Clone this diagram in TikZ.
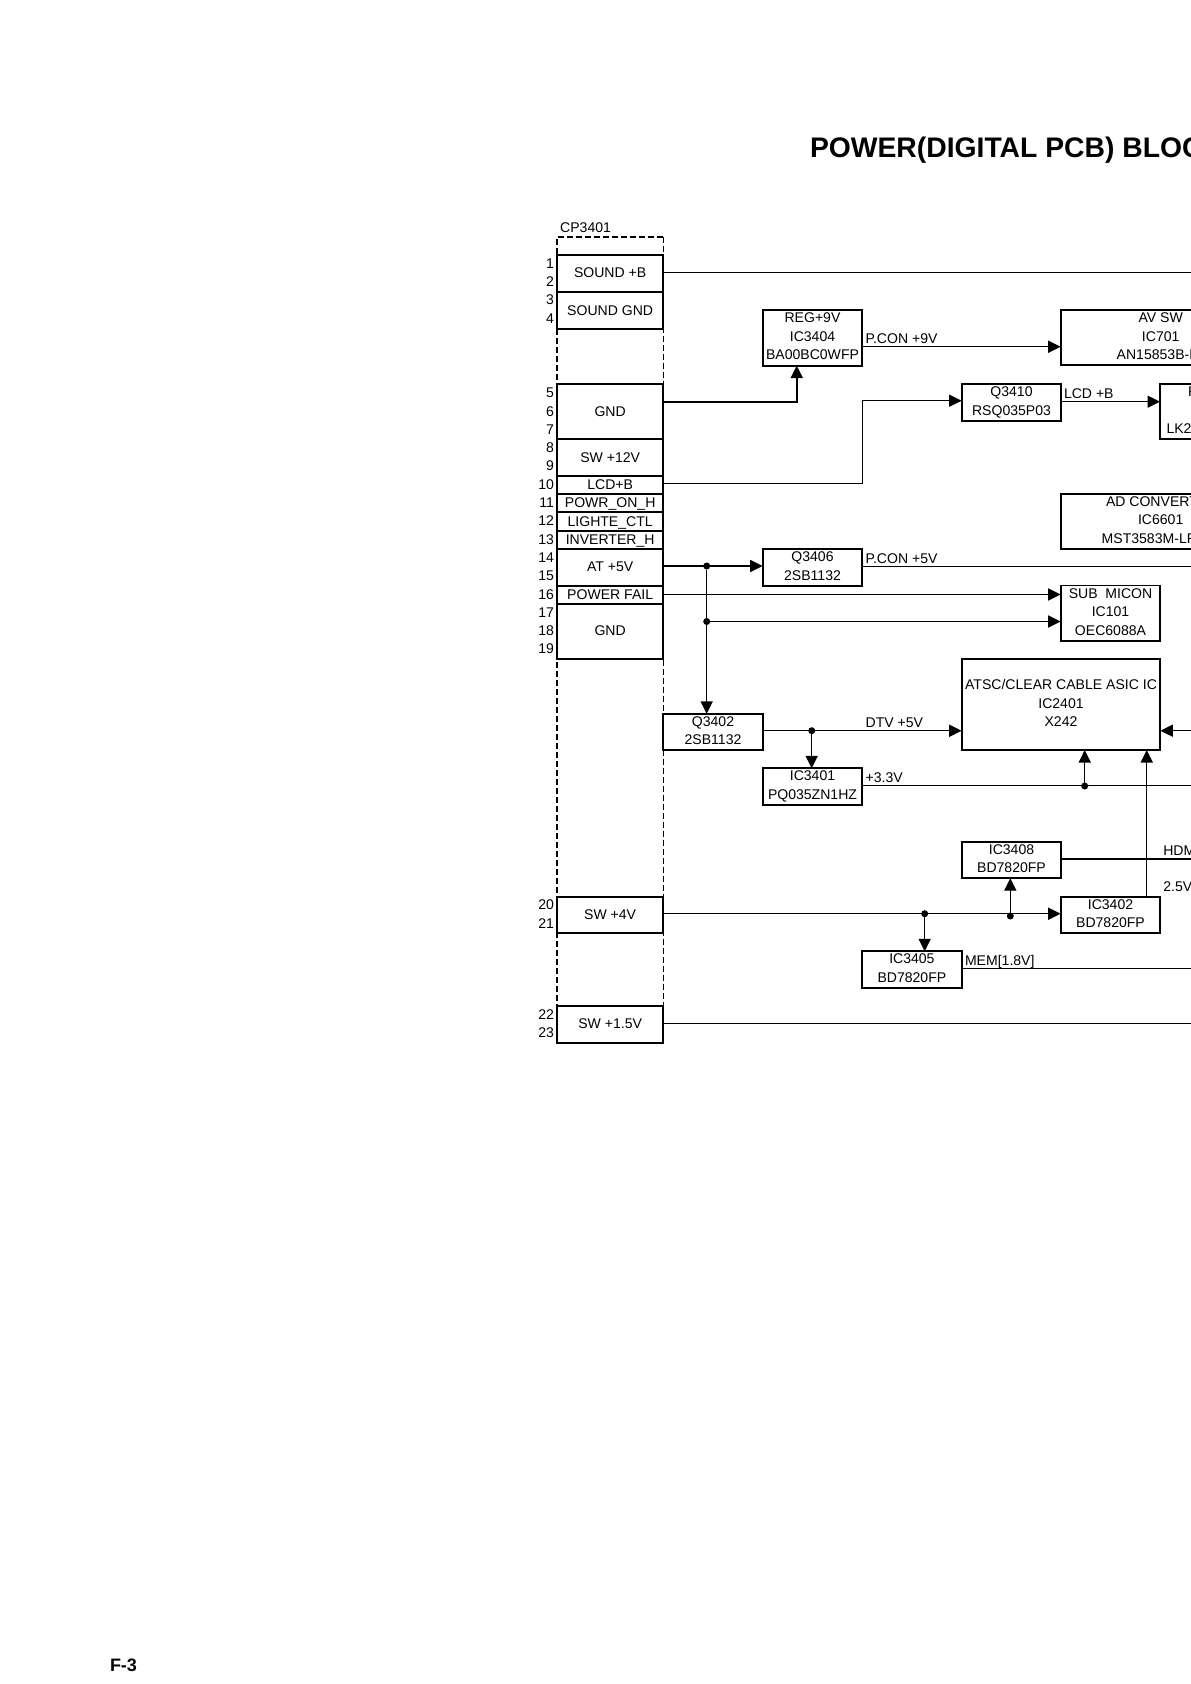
\documentclass[tikz,border=0pt]{standalone}
\usepackage{fontspec}
\usepackage{tikz}
\usetikzlibrary{arrows.meta, positioning, calc}
\setmainfont{Liberation Sans}

\newcommand{\cutline}[2]{\makebox[#1][l]{#2}}

\begin{document}
\begin{tikzpicture}[
  x=1pt, y=-1pt,
  >={Triangle[length=12.5pt, width=12pt]},
  every node/.style={font=\fontsize{14.05}{18.7}\selectfont, inner sep=0pt, outer sep=0pt},
  celltext/.style={
    align=center,
    execute at begin node={\rule{0pt}{12pt}},
    execute at end node={\rule[-3pt]{0pt}{3pt}}
  },
  cell/.style={draw, line width=1.8pt, fill=white, minimum width=106.3pt, celltext},
  blocktwo/.style={draw, line width=1.8pt, fill=white, minimum width=99.6pt, minimum height=36.4pt, celltext},
  blockthree/.style={draw, line width=1.8pt, fill=white, minimum width=99.6pt, minimum height=55.6pt, celltext},
  blockopen/.style={draw, line width=1.8pt, fill=white, minimum width=200pt, minimum height=55pt, celltext},
  pin/.style={anchor=east, yshift=0.5pt},
  lbl/.style={anchor=base west},
  wire/.style={line width=1.2pt},
  feed/.style={->, line width=1.4pt},
  heavy/.style={line width=1.8pt},
  dot/.style={circle, fill=black, minimum size=7pt},
]
\clip (0,0) rectangle (1191,1684);

%% ── Title ─────────────────────────────────────────────────────────────────
\node[anchor=base west, font=\fontsize{28.3}{30}\selectfont\bfseries] (title) at (810,157.7)
  {POWER(DIGITAL PCB) BLOC};
\node[anchor=base west, font=\fontsize{18}{20}\selectfont\bfseries] (page) at (110,1671.5) {F-3};

%% ── Connector outline ─────────────────────────────────────────────────────
\node[anchor=base west] (cpname) at (560.2,232.3) {CP3401};
\coordinate (cptl) at (557,236.7);
\coordinate (cptr) at (663.3,236.7);
\coordinate (cpbl) at (557,1010);
\coordinate (cpbr) at (663.3,1010);
\draw[line width=1.8pt, dash pattern=on 6.5pt off 2.5pt] (cpbl) -- (cptl) -- (cptr);
\draw[line width=1.1pt, dash pattern=on 6.5pt off 2.5pt] (cptr) -- (cpbr);

%% ── Connector cells ───────────────────────────────────────────────────────
\node[cell, minimum height=36.7pt] (soundb)   at (610.15,273.35) {SOUND +B};
\node[cell, minimum height=37.6pt] (soundgnd) at (610.15,310.5)  {SOUND GND};
\node[cell, minimum height=55pt]   (gnda)     at (610.15,411.5)  {GND};
\node[cell, minimum height=37pt]   (sw12)     at (610.15,457.5)  {SW +12V};
\node[cell, minimum height=18pt]   (lcdb)     at (610.15,485)    {LCD+B};
\node[cell, minimum height=18pt]   (powron)   at (610.15,503)    {POWR\_ON\_H};
\node[cell, minimum height=19pt]   (lighte)   at (610.15,521.5)  {LIGHTE\_CTL};
\node[cell, minimum height=18pt]   (inverter) at (610.15,540)    {INVERTER\_H};
\node[cell, minimum height=36.7pt] (at5v)     at (610.15,567.35) {AT +5V};
\node[cell, minimum height=18pt]   (powfail)  at (610.15,594.7)  {POWER FAIL};
\node[cell, minimum height=55pt]   (gndb)     at (610.15,631.2)  {GND};
\node[cell, minimum height=35.7pt] (sw4)      at (610.15,914.85) {SW +4V};
\node[cell, minimum height=37pt]   (sw15)     at (610.15,1024.2) {SW +1.5V};

%% ── Pin numbers ───────────────────────────────────────────────────────────
\node[pin] (p1)  at (554,264.3) {1};
\node[pin] (p2)  at (554,282)   {2};
\node[pin] (p3)  at (554,300)   {3};
\node[pin] (p4)  at (554,319)   {4};
\node[pin] (p5)  at (554,393)   {5};
\node[pin] (p6)  at (554,412)   {6};
\node[pin] (p7)  at (554,430)   {7};
\node[pin] (p8)  at (554,448)   {8};
\node[pin] (p9)  at (554,466)   {9};
\node[pin] (p10) at (554,485)   {10};
\node[pin] (p11) at (554,503)   {11};
\node[pin] (p12) at (554,521)   {12};
\node[pin] (p13) at (554,540)   {13};
\node[pin] (p14) at (554,558)   {14};
\node[pin] (p15) at (554,576)   {15};
\node[pin] (p16) at (554,594.7) {16};
\node[pin] (p17) at (554,613)   {17};
\node[pin] (p18) at (554,631)   {18};
\node[pin] (p19) at (554,649)   {19};
\node[pin] (p20) at (554,905)   {20};
\node[pin] (p21) at (554,924)   {21};
\node[pin] (p22) at (554,1015)  {22};
\node[pin] (p23) at (554,1033)  {23};

%% ── Blocks ────────────────────────────────────────────────────────────────
\node[blockthree] (ic3404) at (812.5,337.8) {REG+9V\\IC3404\\BA00BC0WFP};
\node[blocktwo]   (q3406)  at (812.5,567.5) {Q3406\\2SB1132};
\node[blocktwo]   (q3402)  at (713,732)     {Q3402\\2SB1132};
\node[blocktwo]   (ic3401) at (812.5,786.5) {IC3401\\PQ035ZN1HZ};
\node[blocktwo]   (q3410)  at (1011.5,402.5) {Q3410\\RSQ035P03};
\node[blocktwo]   (ic3408) at (1011.5,860)  {IC3408\\BD7820FP};
\node[blocktwo]   (ic3402) at (1110.5,915)  {IC3402\\BD7820FP};
\node[blocktwo]   (ic3405) at (911.9,969.5) {IC3405\\BD7820FP};
\node[blockthree] (ic101)  at (1110.5,613.3) {SUB~~MICON\\IC101\\OEC6088A};
\node[draw, line width=1.8pt, minimum width=198.6pt, minimum height=90.7pt, celltext] (ic2401) at (1061,704.65)
  {ATSC/CLEAR CABLE ASIC IC\\IC2401\\X242};
\node[blockopen] (ic701)  at (1160.7,337.8) {AV SW\\IC701\\\cutline{88pt}{AN15853B-P}};
\node[blockopen] (ic6601) at (1160.7,521.3) {\cutline{109.4pt}{AD CONVERT}\\IC6601\\\cutline{118pt}{MST3583M-LF}};
\node[blockopen] (panel)  at (1260,411.5)   {\cutline{144pt}{F}\\ \\\cutline{187pt}{LK2}};

%% ── Wire levels and free ends ─────────────────────────────────────────────
\coordinate (soundend) at (1191,272.3);
\coordinate (gndbend)  at (796.7,401.7);
\coordinate (lcdturn)  at (862.3,483.3);
\coordinate (lcdin)    at (862.3,400.7);
\coordinate (pcon9)    at (862.3,346.7);
\coordinate (lcdout)   at (1061.3,401.7);
\coordinate (pcon5)    at (1191,566.3);
\coordinate (failin)   at (1060.7,594.5);
\coordinate (v33end)   at (1191,785.7);
\coordinate (dtvin)    at (1191,730.7);
\coordinate (hdmend)   at (1191,859);
\coordinate (memend)   at (1191,968.7);
\coordinate (sw15end)  at (1191,1023.3);

%% ── Junction dots ─────────────────────────────────────────────────────────
\node[dot] (j5v)  at (706.7,566)   {};
\node[dot] (jsub) at (706.7,621.5) {};
\node[dot] (jdtv) at (811.7,730.7) {};
\node[dot] (j33)  at (1084.7,786)  {};
\node[dot] (j405) at (924.7,913.7) {};
\node[dot] (j408) at (1010.3,916)  {};

%% ── Left side feeds ───────────────────────────────────────────────────────
\draw[wire] (soundb.east |- soundend) -- (soundend);
\draw[heavy, ->] (gnda.east |- gndbend) -- (gndbend) -- (gndbend |- ic3404.south);
\draw[wire, ->] (lcdb.east |- lcdturn) -- (lcdturn) -- (lcdin) -- (q3410.west |- lcdin);
\draw[feed] (ic3404.east |- pcon9) -- (ic701.west |- pcon9);
\draw[feed] (q3410.east |- lcdout) -- (panel.west |- lcdout);

%% ── 5 V rail ──────────────────────────────────────────────────────────────
\draw[feed] (at5v.east |- j5v) -- (q3406.west |- j5v);
\draw[feed] (j5v) -- (q3402.north -| j5v);
\draw[feed] (jsub) -- (ic101.west |- jsub);
\draw[feed] (powfail.east |- failin) -- (failin);
\draw[wire] (q3406.east |- pcon5) -- (pcon5);
\draw[feed] (q3402.east |- jdtv) -- (ic2401.west |- jdtv);
\draw[feed] (jdtv) -- (ic3401.north -| jdtv);
\draw[wire] (ic3401.east |- v33end) -- (v33end);
\draw[feed] (j33) -- (ic2401.south -| j33);
\draw[feed] (dtvin) -- (ic2401.east |- dtvin);

%% ── 4 V rail ──────────────────────────────────────────────────────────────
\draw[feed] (sw4.east |- j405) -- (ic3402.west |- j405);
\draw[feed] (j405) -- (ic3405.north -| j405);
\draw[feed] (j408) -- (ic3408.south -| j408);
\draw[wire] (ic3408.east |- hdmend) -- (hdmend);
\coordinate (up25) at (1146.7,897);
\draw[feed] (up25) -- (up25 |- ic2401.south);
\draw[wire] (ic3405.east |- memend) -- (memend);
\draw[wire] (sw15.east |- sw15end) -- (sw15end);

%% ── Wire labels ───────────────────────────────────────────────────────────
\node[lbl] (lpcon9) at (865.5,343)   {P.CON +9V};
\node[lbl] (llcd)   at (1064,398)    {LCD +B};
\node[lbl] (lpcon5) at (865.5,563)   {P.CON +5V};
\node[lbl] (ldtv)   at (865.7,727.3) {DTV +5V};
\node[lbl] (l33)    at (865.7,782.3) {+3.3V};
\node[lbl] (lhdm)   at (1163.3,855)  {HDM};
\node[lbl] (l25)    at (1163.3,891.7) {2.5V};
\node[lbl] (lmem)   at (965,965)     {MEM[1.8V]};

\end{tikzpicture}
\end{document}
